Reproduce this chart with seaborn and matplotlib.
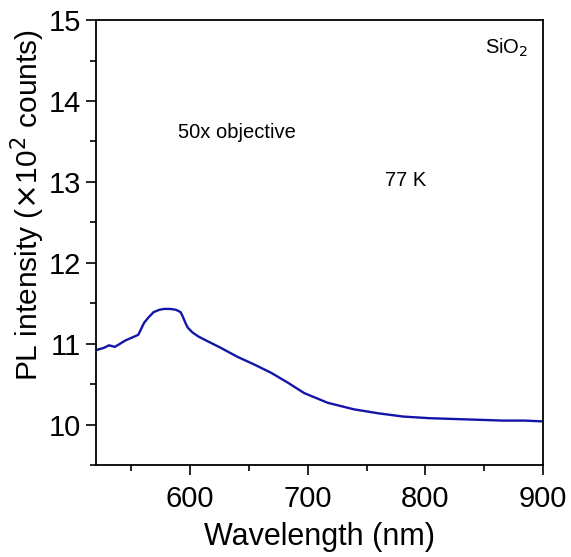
import matplotlib
matplotlib.use("Agg")
import matplotlib.pyplot as plt
import seaborn as sns
import pandas as pd
from matplotlib.ticker import MultipleLocator

wavelength = [520, 527, 531, 534, 536, 545, 556, 558, 561, 565, 569, 574, 578, 583, 588, 592,
              594, 596, 598, 602, 607, 615, 626, 640, 655, 669, 683, 697, 717, 739, 760, 781,
              803, 824, 845, 866, 884, 900]
intensity = [10.92, 10.95, 10.98, 10.97, 10.96, 11.04, 11.11, 11.17, 11.26, 11.33, 11.39, 11.42,
             11.43, 11.43, 11.42, 11.39, 11.33, 11.26, 11.20, 11.14, 11.09, 11.03, 10.95, 10.84,
             10.74, 10.64, 10.52, 10.39, 10.27, 10.19, 10.14, 10.10, 10.08, 10.07, 10.06, 10.05,
             10.05, 10.04]

df = pd.DataFrame({"Wavelength (nm)": wavelength, "PL": intensity})

sns.set_style("ticks")
plt.rcParams["font.family"] = ["Liberation Sans", "DejaVu Sans"]
plt.rcParams["text.color"] = "black"
plt.rcParams["axes.labelcolor"] = "black"
plt.rcParams["xtick.color"] = "black"
plt.rcParams["ytick.color"] = "black"

fig = plt.figure(figsize=(5.71, 5.57), dpi=100)
ax = fig.add_axes([0.168, 0.165, 0.783, 0.799])
sns.lineplot(data=df, x="Wavelength (nm)", y="PL", ax=ax, color="#1414a8", linewidth=1.7)

ax.set_xlim(520, 900)
ax.set_ylim(9.5, 15)
ax.xaxis.set_major_locator(MultipleLocator(100))
ax.xaxis.set_minor_locator(MultipleLocator(50))
ax.yaxis.set_major_locator(MultipleLocator(1))
ax.yaxis.set_minor_locator(MultipleLocator(0.5))
ax.tick_params(axis="both", which="major", length=7, width=1.2, labelsize=21, direction="out", pad=4)
ax.tick_params(axis="x", which="major", pad=7)
ax.tick_params(axis="both", which="minor", length=4.5, width=1.2, direction="out")
for s in ax.spines.values():
    s.set_linewidth(1.3)
    s.set_color("black")

ax.set_xlabel("Wavelength (nm)", fontsize=22)
ax.set_ylabel(r"PL intensity ($\times$10$^{2}$ counts)", fontsize=21.5)
ax.xaxis.set_label_coords(0.5, -0.128)
ax.yaxis.set_label_coords(-0.11, 0.584)

ax.text(0.183, 0.748, "50x objective", transform=ax.transAxes, fontsize=14.5, va="center", ha="left")
ax.text(0.647, 0.640, "77 K", transform=ax.transAxes, fontsize=14.5, va="center", ha="left")
ax.text(0.870, 0.937, r"SiO$_2$", transform=ax.transAxes, fontsize=14.5, va="center", ha="left")

fig.savefig("out.png", dpi=100)
